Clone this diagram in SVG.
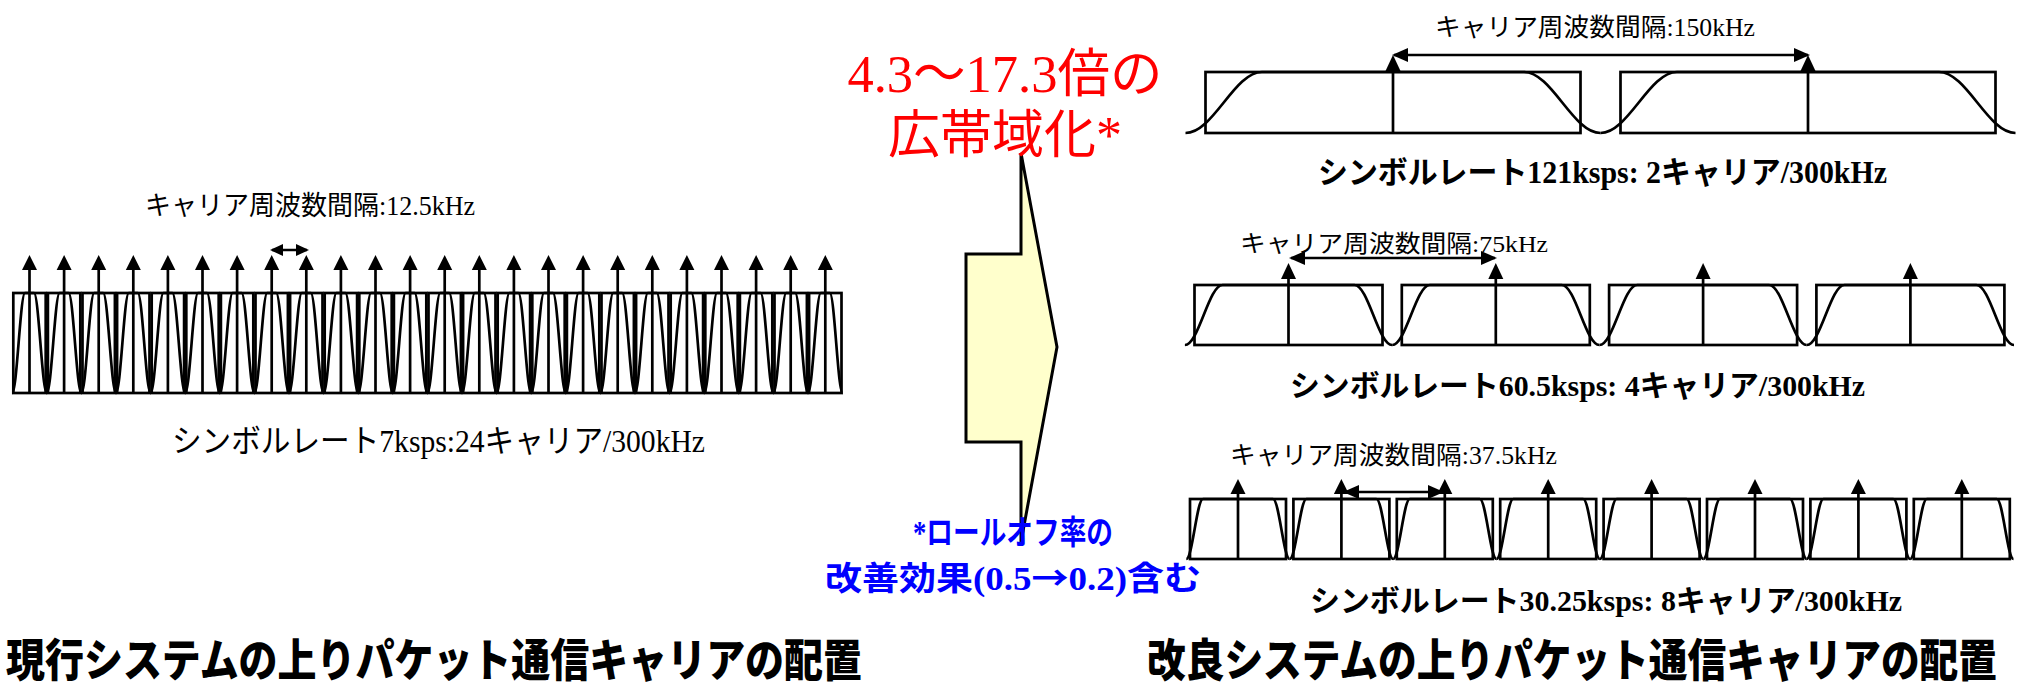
<svg xmlns="http://www.w3.org/2000/svg" xmlns:xlink="http://www.w3.org/1999/xlink" width="2017" height="692" viewBox="0 0 2017 692">
<style>
  .ln { fill: none; stroke: #000; stroke-width: 2.7; stroke-linejoin: miter; }
  .hd { fill: #000; stroke: none; }
  .lbl { font-family: "Liberation Serif", "Noto Sans CJK JP", serif; fill: #000; }
  .cap { font-family: "Liberation Serif", "Noto Sans CJK JP", serif; font-weight: bold; fill: #000; }
  .red { font-family: "Liberation Serif", "Noto Sans CJK JP", serif; fill: #ff0000; font-size: 52px; }
  .blue { font-family: "Liberation Serif", "Noto Sans CJK JP", serif; fill: #0000ff; font-weight: bold; font-size: 33px; }
  .lat { font-family: "Liberation Serif", serif; }
  .cjk { font-family: "Noto Sans CJK JP", sans-serif; }
  .ttl { font-family: "Noto Sans CJK JP", sans-serif; font-weight: 900; font-size: 41px; fill: #000; }
  .dim { fill: none; stroke: #000; stroke-width: 2.7; }
</style>
<defs>
  <marker id="ah" markerUnits="userSpaceOnUse" markerWidth="16" markerHeight="14" refX="14" refY="7" orient="auto-start-reverse">
    <path d="M0,0 L16,7 L0,14 z" fill="#000"/>
  </marker>
  <marker id="ahS" markerUnits="userSpaceOnUse" markerWidth="13" markerHeight="12" refX="11" refY="6" orient="auto-start-reverse">
    <path d="M0,0 L13,6 L0,12 z" fill="#000"/>
  </marker>
  <g id="carL">
    <rect class="ln" x="-16.2" y="-100" width="32.4" height="100"/>
    <path class="ln" d="M-17.3,0 C-12.6,0 -9.2,-100 -4.5,-100 L4.5,-100 C9.2,-100 12.6,0 17.3,0"/>
    <line class="ln" x1="0" y1="0" x2="0" y2="-125"/>
    <path class="hd" d="M0,-138 L7.5,-123 L-7.5,-123 z"/>
  </g>
  <g id="car1">
    <rect class="ln" x="-187.5" y="-61" width="375" height="61"/>
    <path class="ln" d="M-207.5,0 C-179.7,0 -158.8,-61 -131,-61 L131,-61 C158.8,-61 179.7,0 207.5,0"/>
    <line class="ln" x1="0" y1="0" x2="0" y2="-63"/>
    <path class="hd" d="M0,-78 L8,-61 L-8,-61 z"/>
  </g>
  <g id="car2">
    <rect class="ln" x="-94" y="-60" width="188" height="60"/>
    <path class="ln" d="M-103.6,0 C-89.9,0 -79.7,-60 -66,-60 L66,-60 C79.7,-60 89.9,0 103.6,0"/>
    <line class="ln" x1="0" y1="0" x2="0" y2="-68"/>
    <path class="hd" d="M0,-82 L7.5,-66 L-7.5,-66 z"/>
  </g>
  <g id="car3">
    <rect class="ln" x="-48" y="-60" width="96" height="60"/>
    <path class="ln" d="M-51.7,0 C-45.6,0 -41.1,-60 -35,-60 L35,-60 C41.1,-60 45.6,0 51.7,0"/>
    <line class="ln" x1="0" y1="0" x2="0" y2="-67"/>
    <path class="hd" d="M0,-80 L7.5,-65 L-7.5,-65 z"/>
  </g>
</defs>
<rect x="0" y="0" width="2017" height="692" fill="#fff"/>

<g id="block-arrow">
  <polygon points="1021,153 1021,254 966,254 966,442 1021,442 1021,542 1057,347" fill="#ffffcc" stroke="#000" stroke-width="3" stroke-linejoin="miter"/>
</g>

<g id="current-carriers">
  <use xlink:href="#carL" x="29.5" y="393"/>
  <use xlink:href="#carL" x="64.1" y="393"/>
  <use xlink:href="#carL" x="98.7" y="393"/>
  <use xlink:href="#carL" x="133.3" y="393"/>
  <use xlink:href="#carL" x="167.9" y="393"/>
  <use xlink:href="#carL" x="202.5" y="393"/>
  <use xlink:href="#carL" x="237.1" y="393"/>
  <use xlink:href="#carL" x="271.7" y="393"/>
  <use xlink:href="#carL" x="306.3" y="393"/>
  <use xlink:href="#carL" x="340.9" y="393"/>
  <use xlink:href="#carL" x="375.5" y="393"/>
  <use xlink:href="#carL" x="410.1" y="393"/>
  <use xlink:href="#carL" x="444.7" y="393"/>
  <use xlink:href="#carL" x="479.3" y="393"/>
  <use xlink:href="#carL" x="513.9" y="393"/>
  <use xlink:href="#carL" x="548.5" y="393"/>
  <use xlink:href="#carL" x="583.1" y="393"/>
  <use xlink:href="#carL" x="617.7" y="393"/>
  <use xlink:href="#carL" x="652.3" y="393"/>
  <use xlink:href="#carL" x="686.9" y="393"/>
  <use xlink:href="#carL" x="721.5" y="393"/>
  <use xlink:href="#carL" x="756.1" y="393"/>
  <use xlink:href="#carL" x="790.7" y="393"/>
  <use xlink:href="#carL" x="825.3" y="393"/>
</g>

<g id="improved-2carriers">
  <use xlink:href="#car1" x="1393" y="133"/>
  <use xlink:href="#car1" x="1808" y="133"/>
</g>

<g id="improved-4carriers">
  <use xlink:href="#car2" x="1288.5" y="345"/>
  <use xlink:href="#car2" x="1495.8" y="345"/>
  <use xlink:href="#car2" x="1703.1" y="345"/>
  <use xlink:href="#car2" x="1910.4" y="345"/>
</g>

<g id="improved-8carriers">
  <use xlink:href="#car3" x="1238" y="559"/>
  <use xlink:href="#car3" x="1341.4" y="559"/>
  <use xlink:href="#car3" x="1444.8" y="559"/>
  <use xlink:href="#car3" x="1548.2" y="559"/>
  <use xlink:href="#car3" x="1651.6" y="559"/>
  <use xlink:href="#car3" x="1755" y="559"/>
  <use xlink:href="#car3" x="1858.4" y="559"/>
  <use xlink:href="#car3" x="1961.8" y="559"/>
</g>

<g id="connectors">
  <line class="dim" x1="272" y1="250" x2="307" y2="250" marker-start="url(#ahS)" marker-end="url(#ahS)"/>
  <line class="dim" x1="1394" y1="55" x2="1808" y2="55" marker-start="url(#ah)" marker-end="url(#ah)"/>
  <line class="dim" x1="1291" y1="258" x2="1495" y2="258" marker-start="url(#ah)" marker-end="url(#ah)"/>
  <line class="dim" x1="1345" y1="492" x2="1442" y2="492" marker-start="url(#ah)" marker-end="url(#ah)"/>
</g>

<g id="labels">
  <text id="t-left-spacing" class="lbl" x="145" y="215" font-size="27" textLength="330" lengthAdjust="spacingAndGlyphs">キャリア周波数間隔:12.5kHz</text>
  <text id="t-left-rate" class="lbl" x="172" y="452" font-size="32" textLength="533" lengthAdjust="spacingAndGlyphs">シンボルレート7ksps:24キャリア/300kHz</text>
  <text id="t-r1-spacing" class="lbl" x="1435" y="36" font-size="25" textLength="320" lengthAdjust="spacingAndGlyphs">キャリア周波数間隔:150kHz</text>
  <text id="t-r1-rate" class="cap" x="1318" y="183" font-size="31" textLength="569" lengthAdjust="spacingAndGlyphs">シンボルレート121ksps: 2キャリア/300kHz</text>
  <text id="t-r2-spacing" class="lbl" x="1240" y="252" font-size="24" textLength="308" lengthAdjust="spacingAndGlyphs">キャリア周波数間隔:75kHz</text>
  <text id="t-r2-rate" class="cap" x="1290" y="396" font-size="30" textLength="575" lengthAdjust="spacingAndGlyphs">シンボルレート60.5ksps: 4キャリア/300kHz</text>
  <text id="t-r3-spacing" class="lbl" x="1230" y="464" font-size="25" textLength="327" lengthAdjust="spacingAndGlyphs">キャリア周波数間隔:37.5kHz</text>
  <text id="t-r3-rate" class="cap" x="1310" y="611" font-size="30" textLength="592" lengthAdjust="spacingAndGlyphs">シンボルレート30.25ksps: 8キャリア/300kHz</text>
</g>

<g id="note-widening">
  <text class="red" x="1005" y="92" text-anchor="middle" textLength="315" lengthAdjust="spacingAndGlyphs"><tspan class="lat">4.3</tspan>〜<tspan class="lat">17.3</tspan>倍の</text>
  <text class="red" x="1005" y="153" text-anchor="middle" textLength="234" lengthAdjust="spacingAndGlyphs">広帯域化<tspan class="lat">*</tspan></text>
</g>

<g id="note-rolloff">
  <text class="blue" x="1013" y="544" text-anchor="middle" textLength="200" lengthAdjust="spacingAndGlyphs">*ロールオフ率の</text>
  <text class="blue" x="1013" y="590" text-anchor="middle" textLength="376" lengthAdjust="spacingAndGlyphs">改善効果(0.5<tspan class="cjk">→</tspan>0.2)含む</text>
</g>

<g id="titles">
  <text id="title-current" class="ttl" transform="translate(6 677) scale(1 1.1)" x="0" y="0" textLength="856" lengthAdjust="spacingAndGlyphs">現行システムの上りパケット通信キャリアの配置</text>
  <text id="title-improved" class="ttl" transform="translate(1147 677) scale(1 1.1)" x="0" y="0" textLength="850" lengthAdjust="spacingAndGlyphs">改良システムの上りパケット通信キャリアの配置</text>
</g>
</svg>
